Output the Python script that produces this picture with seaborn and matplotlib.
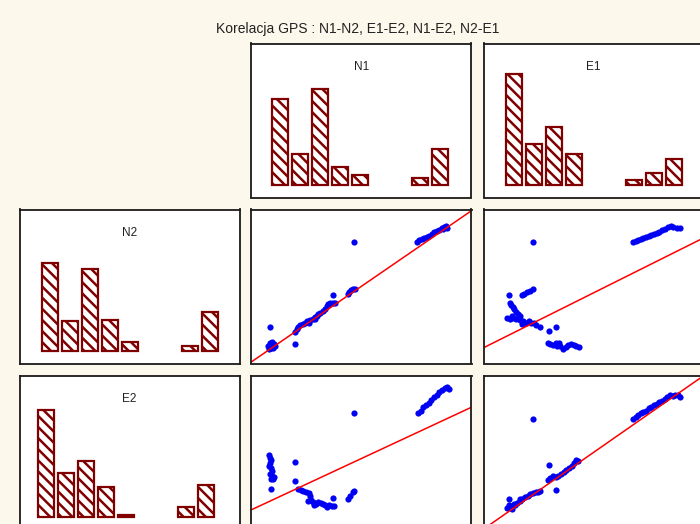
import numpy as np
import pandas as pd
import matplotlib
matplotlib.use("Agg")
import matplotlib.pyplot as plt
import seaborn as sns

# Histogram counts (9 bins per variable, empty bins left out)
n1_bins = [0, 1, 2, 3, 4, 7, 8]
n1_counts = [86, 31, 96, 18, 10, 7, 36]
e1_bins = [0, 1, 2, 3, 6, 7, 8]
e1_counts = [111, 41, 58, 31, 5, 12, 26]
n2_bins = [0, 1, 2, 3, 4, 7, 8]
n2_counts = [88, 30, 82, 31, 9, 5, 39]
e2_bins = [0, 1, 2, 3, 4, 7, 8]
e2_counts = [107, 44, 56, 30, 1.5, 10, 32]

# Scatter readings (panel units)
n1n2_x = [55, 60, 62, 65, 68, 72, 58, 75, 65, 70, 60, 135,
          135, 140, 145, 150, 158, 165, 172, 180, 188, 195, 200, 205, 210, 218,
          225, 230, 235, 240, 248, 255, 178, 195, 250,
          293, 298, 303, 310, 315, 312,
          500, 508, 515, 522, 530, 538, 545, 552, 560, 568, 575, 582, 588, 592, 580]
n1n2_y = [60, 68, 55, 72, 62, 65, 52, 60, 58, 55, 117, 67,
          103, 110, 118, 122, 125, 130, 135, 138, 142, 147, 150, 155, 160, 165,
          172, 180, 185, 188, 190, 190, 130, 142, 213,
          215, 222, 227, 230, 230, 370,
          372, 376, 380, 384, 386, 390, 394, 400, 404, 408, 412, 417, 420, 414, 410]

e1n2_x = [158, 125, 132, 140, 148, 158, 85,
          88, 92, 98, 102, 108, 112, 118, 80, 88, 98, 108, 120, 128, 136, 145,
          152, 160, 168, 178, 125, 95, 205, 228,
          202, 210, 218, 226, 235, 240, 248, 256, 264, 272, 280, 288, 295, 230,
          458, 466, 474, 482, 490, 498, 506, 514, 522, 530, 538, 546, 555, 563,
          572, 580, 590, 600]
e1n2_y = [370, 212, 216, 222, 226, 230, 213,
          188, 182, 176, 170, 162, 155, 150, 143, 142, 144, 140, 138, 134, 130, 134,
          130, 128, 124, 118, 125, 150, 104, 116,
          68, 66, 64, 68, 70, 60, 52, 56, 62, 65, 62, 60, 56, 60,
          372, 375, 378, 380, 383, 387, 390, 392, 395, 398, 402, 406, 410, 415,
          420, 417, 414, 412]

n1e2_x = [56, 60, 63, 60, 58, 62, 65, 60, 66, 72, 62, 70, 62, 135, 135,
          145, 152, 160, 168, 176, 180, 183, 188, 193, 198, 205, 212, 218, 226,
          232, 238, 246, 252, 250, 175,
          293, 300, 308, 312, 313,
          505, 512, 520, 528, 536, 544, 552, 560, 568, 576, 584, 592, 596]
n1e2_y = [225, 218, 210, 202, 194, 186, 178, 170, 164, 160, 154, 154, 125, 205, 148,
          125, 122, 118, 116, 112, 102, 92, 84, 76, 80, 85, 82, 78, 75,
          70, 76, 72, 74, 97, 88,
          95, 104, 114, 118, 350,
          350, 358, 368, 376, 382, 390, 398, 406, 414, 420, 426, 428, 422]

e1e2_x = [158, 80, 86, 90, 96, 102, 110, 118, 126, 134, 142, 150, 158, 166, 174,
          180, 85, 95, 120, 105, 205, 228,
          203, 210, 218, 226, 234, 242, 250, 258, 266, 274, 282, 288, 294,
          458, 466, 474, 482, 490, 498, 506, 514, 522, 530, 538, 546, 554, 562,
          570, 578, 586, 594, 600]
e1e2_y = [332, 68, 75, 70, 74, 80, 82, 88, 94, 100, 104, 108, 112, 114, 116,
          118, 94, 64, 95, 76, 195, 122,
          150, 158, 162, 160, 164, 168, 174, 180, 186, 194, 202, 212, 208,
          332, 340, 346, 350, 353, 358, 365, 370, 375, 379, 383, 388, 394, 400,
          404, 402, 404, 406, 400]

# fitted regression lines as shown (intercept, slope)
fit_n1n2 = (9.58, 0.684)
fit_e1n2 = (50.0, 0.497)
fit_n1e2 = (59.7, 0.464)
fit_e1e2 = (-2.8, 0.694)

title = "Korelacja GPS : N1-N2, E1-E2, N1-E2, N2-E1"

sns.set_style("white")
plt.rcParams["font.family"] = ["Liberation Sans", "DejaVu Sans"]
plt.rcParams["hatch.linewidth"] = 1.8
plt.rcParams["hatch.color"] = "#800000"

bg = "#fdf8ec"
fig = plt.figure(figsize=(7, 5.24), dpi=100, facecolor=bg)

W, H = 700, 524
pw, ph = 220, 154
cols = [19.5, 251.5, 483.5]
rows = [43.5, 209.5, 375.5]


def panel(r, c):
    ax = fig.add_axes([cols[c] / W, (H - rows[r] - ph) / H, pw / W, ph / H])
    ax.set_facecolor("white")
    ax.set_xticks([])
    ax.set_yticks([])
    for s in ax.spines.values():
        s.set_color("#1a1a1a")
        s.set_linewidth(1.3)
    return ax


def hist_panel(r, c, bins, counts, label, left):
    ax = panel(r, c)
    df = pd.DataFrame({"bin": bins, "count": counts})
    sns.barplot(data=df, x="bin", y="count", native_scale=True, color="white",
                edgecolor="#800000", linewidth=1.6, hatch="\\\\\\", width=0.8,
                saturation=1, ax=ax)
    ax.set_xlim(left, left + 11)
    ax.set_ylim(-12.5, 141)
    ax.set_xlabel("")
    ax.set_ylabel("")
    ax.set_xticks([])
    ax.set_yticks([])
    ax.text(0.5, 1 - 23 / ph, label, transform=ax.transAxes, ha="center",
            va="center", fontsize=8.5, color="#222222")


def scatter_panel(r, c, x, y, fit, xlim, ylim):
    ax = panel(r, c)
    sns.scatterplot(x=x, y=y, s=20, color="#0000f5", linewidth=0, ax=ax)
    ax.axline((0, fit[0]), slope=fit[1], color="#ff0000", lw=1.1)
    ax.set_xlim(*xlim)
    ax.set_ylim(*ylim)
    ax.set_xticks([])
    ax.set_yticks([])


hist_panel(0, 1, n1_bins, n1_counts, "N1", -1.415)
hist_panel(0, 2, e1_bins, e1_counts, "E1", -1.515)
hist_panel(1, 0, n2_bins, n2_counts, "N2", -1.515)
hist_panel(2, 0, e2_bins, e2_counts, "E2", -1.315)

scatter_panel(1, 1, n1n2_x, n1n2_y, fit_n1n2, (5, 665), (8, 468))
scatter_panel(1, 2, e1n2_x, e1n2_y, fit_e1n2, (10, 670), (8, 468))
scatter_panel(2, 1, n1e2_x, n1e2_y, fit_n1e2, (5, 665), (3, 463))
scatter_panel(2, 2, e1e2_x, e1e2_y, fit_e1e2, (10, 670), (3, 463))

fig.text(358 / W, 1 - 29 / H, title, ha="center", va="center", fontsize=10,
         color="#222222")

fig.savefig("out.png", dpi=100, facecolor=bg)
